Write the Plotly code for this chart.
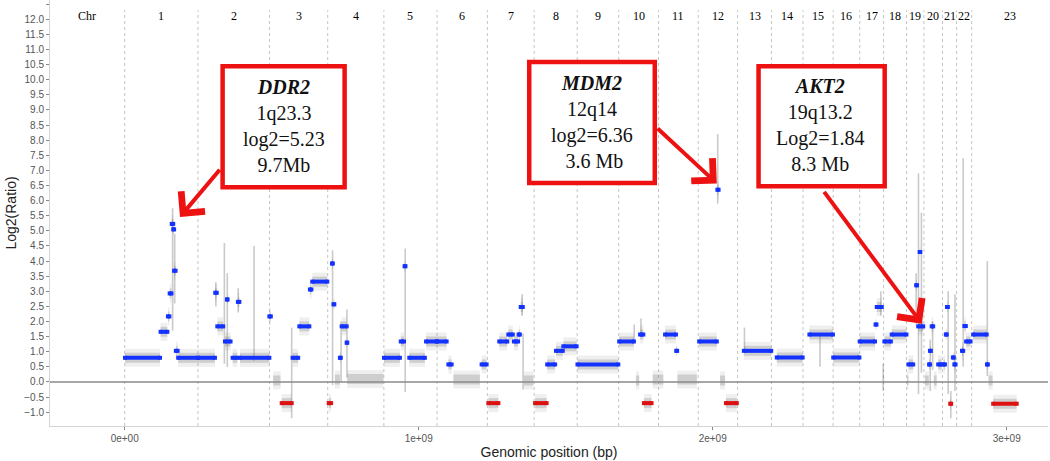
import plotly.graph_objects as go
import numpy as np

# ---------------- data ----------------
chrom_names = [str(i) for i in range(1, 24)]
chrom_len_mb = [249.25, 243.2, 198.0, 191.15, 180.9, 171.1, 159.1, 146.4, 141.2,
                135.5, 135.0, 133.9, 115.2, 107.3, 102.5, 90.4, 81.2, 78.1, 59.1,
                63.0, 48.1, 51.3, 155.3]

# segments: genomic start / end (Mb, cumulative) and segment mean log2 ratio
seg_start_mb = [1, 122, 147, 153, 160, 165, 168, 174, 182,
                249, 308, 315, 341, 348, 367, 385, 392,
                492, 505, 534, 571, 594, 630, 638,
                694, 705, 710, 715, 732, 738, 755, 757,
                882, 939, 952, 968, 1025,
                1062, 1101, 1118, 1214,
                1237, 1274, 1305, 1324, 1340, 1347, 1358,
                1396, 1437, 1467, 1492,
                1540,
                1682, 1739, 1753, 1766, 1796,
                1816, 1838, 1876, 1880,
                1954, 2016, 2025, 2045,
                2106, 2218, 2329, 2410,
                2500, 2554, 2558,
                2581, 2584, 2609,
                2661, 2666, 2692, 2699, 2704,
                2722, 2736, 2739, 2745, 2752, 2767,
                2785, 2793, 2797, 2808, 2817, 2822,
                2848, 2856, 2862,
                2886, 2933, 2938, 2954]
seg_end_mb = [120, 145, 152, 159, 165, 168, 173, 180, 249,
              307, 313, 335, 360, 350, 383, 390, 492,
              497, 530, 568, 590, 628, 635, 689,
              702, 708, 713, 732, 735, 755, 757, 880,
              936, 950, 955, 1021, 1062,
              1095, 1112, 1208, 1231,
              1271, 1301, 1320, 1338, 1344, 1354, 1390,
              1435, 1464, 1490, 1537,
              1679,
              1732, 1750, 1764, 1792, 1815,
              1832, 1875, 1879, 1946,
              2014, 2020, 2042, 2082,
              2199, 2306, 2409, 2499,
              2552, 2557, 2575,
              2583, 2606, 2659,
              2666, 2682, 2695, 2716, 2706,
              2735, 2739, 2742, 2750, 2762, 2779,
              2790, 2796, 2800, 2811, 2820, 2826,
              2852, 2861, 2877,
              2932, 2936, 2952, 3034]
seg_log2 = [0.80, 1.66, 2.17, 2.93, 5.23, 5.05, 3.68, 1.03, 0.80,
            0.80, 2.95, 1.84, 1.34, 2.73, 0.80, 2.65, 0.80,
            2.17, 0.05, -0.70, 0.80, 1.84, 3.06, 3.32,
            -0.70, 3.92, 2.57, 0.08, 0.80, 1.84, 1.30, 0.10,
            0.80, 1.34, 3.83, 0.80, 1.34,
            1.34, 0.58, 0.08, 0.58,
            -0.70, 1.34, 1.57, 1.34, 1.57, 2.48, 0.05,
            -0.70, 0.58, 1.03, 1.18,
            0.58,
            1.34, 0.05, 1.57, -0.70, 0.08,
            0.08, 1.57, 1.03, 0.08,
            1.34, 6.36, 0.05, -0.70,
            1.03, 0.81, 1.57, 0.81,
            1.34, 1.90, 2.48,
            0.05, 1.34, 1.57,
            0.05, 0.58, 3.20, 1.84, 4.30,
            0.05, 0.58, 1.03, 1.84, 0.05, 0.58,
            0.58, 1.57, 2.48, -0.72, 0.81, 0.58,
            1.03, 1.85, 1.34,
            1.57, 0.58, 0.05, -0.72]

# scattered single-probe outliers (position Mb, lowest, highest log2)
spike_pos_mb = [163, 170, 310, 339, 349, 386, 440, 568, 707, 736, 756, 954,
                1352, 1355, 1733, 1756, 2017, 2108, 2365, 2572, 2580, 2692,
                2700, 2710, 2740, 2748, 2801, 2810, 2824, 2852, 2934]
spike_low = [1.7, 2.6, 2.5, 0.6, 0.5, 2.3, 0.7, -1.2, -0.1, 0.0, 0.15, -0.33,
             2.2, -0.25, 1.3, 1.5, 5.9, 1.0, 0.5, 2.2, -0.3, 1.9,
             -0.4, 0.3, -0.3, 0.4, -0.4, -1.2, -0.3, 0.5, 0.2]
spike_high = [5.75, 4.9, 3.3, 4.6, 3.6, 3.1, 4.5, 1.8, 4.36, 2.0, 2.4, 4.42,
              2.9, 1.6, 1.9, 2.1, 8.2, 1.8, 1.6, 3.0, 0.6, 3.6,
              6.9, 5.6, 1.4, 2.0, 3.0, -0.3, 2.9, 7.4, 4.0]

x_tick_vals = [0, 1e9, 2e9, 3e9]
x_tick_text = ["0e+00", "1e+09", "2e+09", "3e+09"]

gene_labels = [
    "<b><i>DDR2</i></b><br>1q23.3<br>log2=5.23<br>9.7Mb",
    "<b><i>MDM2</i></b><br>12q14<br>log2=6.36<br> 3.6 Mb",
    "<b><i>AKT2</i></b><br>19q13.2<br>Log2=1.84<br>8.3 Mb",
]
gene_pos_mb = [188, 2014, 2711]
gene_log2 = [5.46, 6.57, 1.93]

# ---------------- geometry helpers ----------------
MB = 1e6
X_MIN, X_MAX = -254.1 * MB, 3140.5 * MB
Y_MIN, Y_MAX = -1.457, 12.639

bounds_mb = np.concatenate([[0], np.cumsum(chrom_len_mb)])
label_mb = [(bounds_mb[i] + bounds_mb[i + 1]) / 2 for i in range(len(chrom_names) - 1)]
label_mb.append((bounds_mb[-2] + X_MAX / MB) / 2)

def seg_xy(idx, vals):
    xs, ys = [], []
    for i in idx:
        xs += [seg_start_mb[i] * MB, seg_end_mb[i] * MB, None]
        ys += [vals[i], vals[i], None]
    return xs, ys

fig = go.Figure()

# probe cloud (gray bands) around every segment: outer halo + denser core
all_idx = range(len(seg_log2))
gx, gy = seg_xy(all_idx, seg_log2)
for w, a in [(18, 0.10), (10, 0.24)]:
    fig.add_trace(go.Scatter(x=gx, y=gy, mode="lines",
                             line=dict(color=f"rgba(100,100,100,{a})", width=w),
                             hoverinfo="skip", showlegend=False))

# outlier probes
sx, sy = [], []
for p, lo, hi in zip(spike_pos_mb, spike_low, spike_high):
    sx += [p * MB, p * MB, None]
    sy += [lo, hi, None]
fig.add_trace(go.Scatter(x=sx, y=sy, mode="lines",
                         line=dict(color="rgba(90,90,90,0.32)", width=1.6),
                         hoverinfo="skip", showlegend=False))

gain_idx = [i for i, v in enumerate(seg_log2) if v > 0.3]
loss_idx = [i for i, v in enumerate(seg_log2) if v < -0.3]
for idx, col in [(gain_idx, "#1432ff"), (loss_idx, "#dd1111")]:
    bx, by = seg_xy(idx, seg_log2)
    fig.add_trace(go.Scatter(x=bx, y=by, mode="lines+markers",
                             line=dict(color=col, width=4),
                             marker=dict(color=col, size=4, symbol="square"),
                             hoverinfo="skip", showlegend=False))

shapes = []
for b in bounds_mb[:-1]:
    shapes.append(dict(type="line", xref="x", yref="y", x0=b * MB, x1=b * MB,
                       y0=Y_MIN, y1=12.3, layer="below",
                       line=dict(color="#c4c4c4", width=1, dash="dot")))
shapes.append(dict(type="line", xref="paper", yref="y", x0=0, x1=1, y0=0, y1=0,
                   layer="above", line=dict(color="#8a8a8a", width=1.6)))

# annotation boxes (data coordinates: Mb / log2)
box_specs = [(333, 748, 6.44, 10.45), (1376, 1803, 6.58, 10.59), (2156, 2585, 6.48, 10.45)]
text_centers = [(541, 8.46), (1589, 8.59), (2368, 8.49)]
for (x0, x1, y0, y1) in box_specs:
    shapes.append(dict(type="rect", xref="x", yref="y", x0=x0 * MB, x1=x1 * MB,
                       y0=y0, y1=y1, layer="above", fillcolor="white",
                       line=dict(color="#ee1111", width=4.5)))

annotations = []
for name, xm in zip(chrom_names, label_mb):
    annotations.append(dict(x=xm * MB, y=12.1, xref="x", yref="y", text=name,
                            showarrow=False, font=dict(family="Liberation Serif", size=12, color="#000")))
annotations.append(dict(x=-128 * MB, y=12.1, xref="x", yref="y", text="Chr",
                        showarrow=False, font=dict(family="Liberation Serif", size=12, color="#000")))

for txt, (cx, cy) in zip(gene_labels, text_centers):
    annotations.append(dict(x=cx * MB, y=cy, xref="x", yref="y", text=txt, showarrow=False,
                            xanchor="center", yanchor="middle",
                            font=dict(family="Liberation Serif", size=20, color="#111")))

arrow_offsets = [(41, -48.7), (-60.7, -56.3), (-98.7, -133.3)]
for xm, yv, (ax, ay) in zip(gene_pos_mb, gene_log2, arrow_offsets):
    annotations.append(dict(x=xm * MB, y=yv, xref="x", yref="y", text="", showarrow=True,
                            ax=ax, ay=ay, arrowhead=4, arrowsize=1.5, arrowwidth=4,
                            arrowcolor="#ee1111", standoff=0))

fig.update_layout(
    width=1050, height=461,
    margin=dict(l=50, r=2, t=0, b=35),
    paper_bgcolor="white", plot_bgcolor="white",
    shapes=shapes, annotations=annotations,
    font=dict(family="Liberation Sans"),
    xaxis=dict(range=[X_MIN, X_MAX], tickvals=x_tick_vals, ticktext=x_tick_text,
               showgrid=False, zeroline=False, showline=True, linecolor="#d4d4d4",
               ticks="outside", ticklen=3, tickcolor="#888",
               tickfont=dict(size=10, color="#555"),
               title=dict(text="Genomic position (bp)", font=dict(size=14, color="#222"), standoff=4)),
    yaxis=dict(range=[Y_MIN, Y_MAX], dtick=0.5, tick0=0, tickformat=".1f",
               showgrid=False, zeroline=False, showline=True, linecolor="#d4d4d4",
               ticks="outside", ticklen=3, tickcolor="#888",
               tickfont=dict(size=10, color="#555"),
               title=dict(text="Log2(Ratio)", font=dict(size=14, color="#222"), standoff=4)),
)

fig.write_html("out.html", config={"displayModeBar": False},
               post_script="document.body.style.margin='0px';")
